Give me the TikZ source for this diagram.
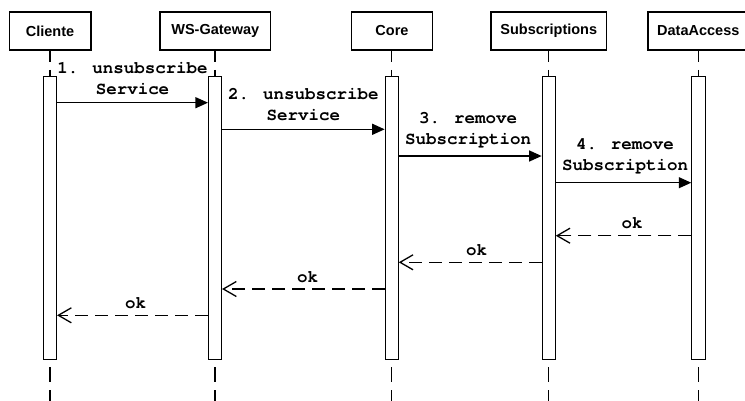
\documentclass[tikz,border=0pt]{standalone}
\usepackage{fontspec}
\setmainfont{Liberation Sans}
\newfontfamily\msgfont{TeX Gyre Cursor}
\usetikzlibrary{arrows.meta}

\begin{document}
\begin{tikzpicture}[x=1pt,y=-1pt,
  actor/.style={draw, line width=1.6pt, minimum height=38pt, inner sep=0pt,
    font=\fontsize{14.5}{17}\selectfont\bfseries},
  bar/.style={draw, fill=white, line width=0.8pt, minimum width=13.3pt,
    minimum height=283pt, inner sep=0pt},
  life/.style={line width=1.3pt, dash pattern=on 15pt off 8pt},
  call/.style={line width=1.3pt, -{Triangle[length=12.5pt,width=11pt]}},
  reply/.style={line width=1.3pt, dash pattern=on 13pt off 7pt,
    -{Straight Barb[length=13pt,width=15pt,line width=1.3pt]}},
  lbl/.style={font=\msgfont\bfseries\fontsize{17.5}{21}\selectfont,
    align=center, inner sep=0pt, anchor=south},
]
\useasboundingbox (0,0) rectangle (745,400);

% participants
\node[actor, minimum width=81.4pt]  (cli)  at (50,31)    {Cliente};
\node[actor, minimum width=110.7pt] (gw)   at (215.3,31) {WS-Gateway};
\node[actor, minimum width=81pt]    (core) at (392,31)   {Core};
\node[actor, minimum width=115.7pt] (sub)  at (548.8,31) {Subscriptions};
\node[actor, minimum width=101.2pt] (da)   at (698.3,31) {DataAccess};

% activation bars
\node[bar] (b1) at (50,217.5)    {};
\node[bar] (b2) at (215,217.5)   {};
\node[bar] (b3) at (391.7,217.5) {};
\node[bar] (b4) at (548.7,217.5) {};
\node[bar] (b5) at (698.3,217.5) {};

% lifelines
\foreach \a/\b in {cli/b1, gw/b2, core/b3, sub/b4, da/b5}{
  \draw[life, dash phase=4pt] (\a.south -| \b.north) -- (\b.north);
  \coordinate (\b-end) at (\b.south |- 0,405);
  \draw[life, dash phase=15pt] (\b.south) -- (\b-end);
}

% calls
\draw[call] (b1.east |- 0,102.7) -- node[lbl, yshift=7.7pt] {1. unsubscribe\\Service} (b2.west |- 0,102.7);
\draw[call] (b2.east |- 0,129.3) -- node[lbl, yshift=7.7pt] {2. unsubscribe\\Service} (b3.west |- 0,129.3);
\draw[call] (b3.east |- 0,156)   -- node[lbl, yshift=7.7pt, xshift=-2pt] {3. remove\\Subscription} (b4.west |- 0,156);
\draw[call] (b4.east |- 0,182.7) -- node[lbl, yshift=7.7pt, xshift=1.5pt] {4. remove\\Subscription} (b5.west |- 0,182.7);

% replies
\draw[reply] (b5.west |- 0,235.7) -- node[lbl, yshift=6pt, xshift=8.5pt] {ok} (b4.east |- 0,235.7);
\draw[reply] (b4.west |- 0,262.3) -- node[lbl, yshift=6pt, xshift=6.4pt] {ok} (b3.east |- 0,262.3);
\draw[reply] (b3.west |- 0,289)   -- node[lbl, yshift=6pt, xshift=4.2pt] {ok} (b2.east |- 0,289);
\draw[reply] (b2.west |- 0,315.3) -- node[lbl, yshift=6pt, xshift=3pt]   {ok} (b1.east |- 0,315.3);
\end{tikzpicture}
\end{document}
